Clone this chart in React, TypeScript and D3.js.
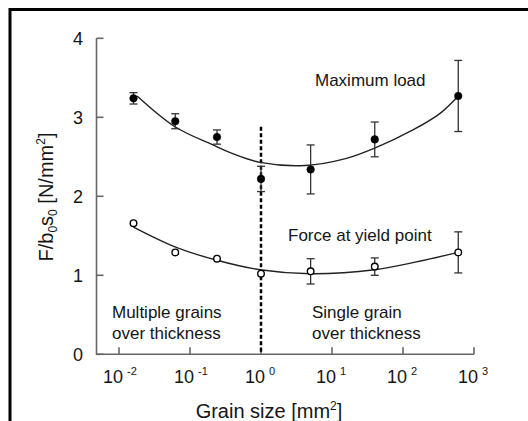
import { useEffect, useRef } from "react"
import * as d3 from "d3"

// grain size [mm^2] of the seven specimen groups
const grainSizes = [0.016, 0.062, 0.24, 1, 5, 40, 600]

// maximum load (filled circles)
const maxLoad = [3.24, 2.95, 2.75, 2.22, 2.34, 2.72, 3.27]
const maxLoadErr = [0.072, 0.095, 0.09, 0.16, 0.31, 0.22, 0.45]

// force at yield point (open circles)
const yieldForce = [1.66, 1.29, 1.21, 1.02, 1.05, 1.11, 1.29]
const yieldForceErr = [0, 0, 0, 0, 0.16, 0.11, 0.26]

// fitted trend curves
const maxFitX = [0.018, 0.0615, 0.21, 0.4, 0.97, 4.2, 16, 40, 138, 333, 600]
const maxFitY = [3.27, 2.88, 2.65, 2.54, 2.43, 2.39, 2.48, 2.61, 2.84, 3.05, 3.27]
const yieldFitX = [0.016, 0.0615, 0.24, 0.97, 4.9, 40, 138, 600]
const yieldFitY = [1.61, 1.36, 1.19, 1.07, 1.02, 1.07, 1.16, 1.29]

const xTickExps = [-2, -1, 0, 1, 2, 3]
const yTicks = [0, 1, 2, 3, 4]

const boundaryX = 1
const boundaryTop = 2.88

const FONT = "'Liberation Sans', Arial, Helvetica, sans-serif"

export default function App() {
  const svgRef = useRef<SVGSVGElement>(null)

  useEffect(() => {
    if (!svgRef.current) return
    const svg = d3.select(svgRef.current)
    svg.selectAll("*").remove()

    const width = 528
    const height = 421

    svg.attr("width", width).attr("height", height).style("font-family", FONT)

    svg.append("rect").attr("width", width).attr("height", height).style("fill", "white")

    // frame (only left and top visible in the crop)
    svg.append("path")
      .attr("d", `M10,${height + 5} V9.5 H${width + 5}`)
      .style("fill", "none")
      .style("stroke", "black")
      .style("stroke-width", 3)

    const x = d3.scaleLog().domain([1e-2, 1e3]).range([119, 474])
    const y = d3.scaleLinear().domain([0, 4]).range([354.3, 38.3])
    const axisLeftX = 96.5

    const axisColor = "#666"
    const textColor = "#151515"

    // axes
    const axes = svg.append("g").style("stroke", axisColor).style("stroke-width", 1.6).style("fill", "none")
    axes.append("path")
      .attr("d", `M${axisLeftX},${y(4)} V${y(0)} H${x(1e3)}`)
    yTicks.forEach((t) => {
      axes.append("line")
        .attr("x1", axisLeftX).attr("x2", axisLeftX + 7)
        .attr("y1", y(t)).attr("y2", y(t))
    })
    xTickExps.forEach((e) => {
      axes.append("line")
        .attr("x1", x(Math.pow(10, e))).attr("x2", x(Math.pow(10, e)))
        .attr("y1", y(0)).attr("y2", y(0) - 7)
    })

    // y tick labels
    yTicks.forEach((t) => {
      svg.append("text")
        .attr("x", 83)
        .attr("y", y(t))
        .attr("text-anchor", "end")
        .attr("dy", "0.36em")
        .style("font-size", "18px")
        .style("fill", textColor)
        .text(t)
    })

    // x tick labels: 10 with superscript exponent
    xTickExps.forEach((e) => {
      const tx = x(Math.pow(10, e))
      const label = svg.append("text")
        .attr("x", tx - 16)
        .attr("y", 383)
        .style("font-size", "18px")
        .style("fill", textColor)
      label.append("tspan").text("10")
      label.append("tspan")
        .attr("dx", 4)
        .attr("dy", -8)
        .style("font-size", "11px")
        .text(e < 0 ? `-${-e}` : `${e}`)
    })

    // axis titles
    const xTitle = svg.append("text")
      .attr("x", 269)
      .attr("y", 418)
      .attr("text-anchor", "middle")
      .style("font-size", "20px")
      .style("fill", textColor)
    xTitle.append("tspan").text("Grain size [mm")
    xTitle.append("tspan").attr("dy", -8).style("font-size", "12px").text("2")
    xTitle.append("tspan").attr("dy", 8).text("]")

    const yTitle = svg.append("text")
      .attr("transform", `translate(53,197) rotate(-90)`)
      .attr("text-anchor", "middle")
      .style("font-size", "20px")
      .style("fill", textColor)
    yTitle.append("tspan").text("F/b")
    yTitle.append("tspan").attr("dy", 4).style("font-size", "12px").text("0")
    yTitle.append("tspan").attr("dy", -4).text("s")
    yTitle.append("tspan").attr("dy", 4).style("font-size", "12px").text("0")
    yTitle.append("tspan").attr("dy", -4).text(" [N/mm")
    yTitle.append("tspan").attr("dy", -8).style("font-size", "12px").text("2")
    yTitle.append("tspan").attr("dy", 8).text("]")

    // boundary between regimes
    svg.append("line")
      .attr("x1", x(boundaryX)).attr("x2", x(boundaryX))
      .attr("y1", y(boundaryTop)).attr("y2", y(0))
      .style("stroke", "black")
      .style("stroke-width", 2.5)
      .style("stroke-dasharray", "4,2.5")

    // fitted curves
    const line = d3.line<[number, number]>()
      .x((d) => x(d[0]))
      .y((d) => y(d[1]))
      .curve(d3.curveCatmullRom.alpha(0.5))

    const drawFit = (xs: number[], ys: number[]) => {
      svg.append("path")
        .datum(xs.map((v, i) => [v, ys[i]] as [number, number]))
        .attr("d", line)
        .style("fill", "none")
        .style("stroke", "#222")
        .style("stroke-width", 1.4)
    }
    drawFit(maxFitX, maxFitY)
    drawFit(yieldFitX, yieldFitY)

    // error bars + markers
    const drawSeries = (vals: number[], errs: number[], filled: boolean) => {
      vals.forEach((v, i) => {
        const px = x(grainSizes[i])
        const err = errs[i]
        if (err > 0) {
          const eb = svg.append("g").style("stroke", "#333").style("stroke-width", 1.3)
          eb.append("line").attr("x1", px).attr("x2", px).attr("y1", y(v + err)).attr("y2", y(v - err))
          eb.append("line").attr("x1", px - 4).attr("x2", px + 4).attr("y1", y(v + err)).attr("y2", y(v + err))
          eb.append("line").attr("x1", px - 4).attr("x2", px + 4).attr("y1", y(v - err)).attr("y2", y(v - err))
        }
        svg.append("circle")
          .attr("cx", px)
          .attr("cy", y(v))
          .attr("r", filled ? 3.8 : 3.3)
          .style("fill", filled ? "black" : "white")
          .style("stroke", "black")
          .style("stroke-width", filled ? 0.5 : 1.4)
      })
    }
    drawSeries(maxLoad, maxLoadErr, true)
    drawSeries(yieldForce, yieldForceErr, false)

    // annotations
    const note = (tx: number, ty: number, s: string) => {
      svg.append("text")
        .attr("x", tx)
        .attr("y", ty)
        .style("font-size", "17px")
        .style("fill", textColor)
        .text(s)
    }
    note(315, 86, "Maximum load")
    note(288, 241, "Force at yield point")
    note(112, 318, "Multiple grains")
    note(112, 339, "over thickness")
    note(312, 318, "Single grain")
    note(312, 339, "over thickness")
  }, [])

  return (
    <svg ref={svgRef} style={{ position: "absolute", left: 0, top: 0, display: "block" }} />
  )
}
